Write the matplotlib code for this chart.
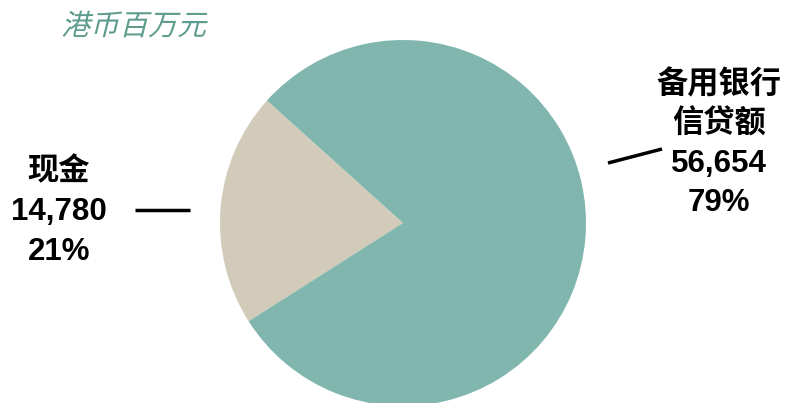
import matplotlib
matplotlib.use("Agg")
import matplotlib.pyplot as plt
from matplotlib.textpath import TextPath
from matplotlib.patches import PathPatch
from matplotlib.font_manager import FontProperties
from matplotlib.transforms import Affine2D

plt.rcParams['font.family'] = ['Liberation Sans', 'Noto Sans CJK SC', 'DejaVu Sans']

# 港币百万元
categories = ["现金", "备用银行\n信贷额"]
values = [14780, 56654]
colors = ["#D2CBB9", "#80B6AE"]
unit_title = "港币百万元"

W, H = 788, 403
fig = plt.figure(figsize=(W / 100, H / 100), dpi=100)
ax = fig.add_axes([0, 0, 1, 1])

# pie in pixel-like data units (y measured from the bottom)
ax.pie(values, colors=colors, startangle=138, counterclock=True,
       center=(403, H - 223), radius=183,
       wedgeprops=dict(linewidth=0))
ax.set_xlim(0, W)
ax.set_ylim(0, H)
ax.set_aspect('equal')
ax.axis('off')

total = sum(values)
labels = []
for cat, v in zip(categories, values):
    labels.append("%s\n%s\n%d%%" % (cat, format(v, ","), round(v / total * 100)))

# cash label on the left
ax.text(59, H - 212, labels[0], ha='center', va='center', fontsize=22.5,
        fontweight='bold', linespacing=1.42, color='black')
ax.plot([135, 190], [H - 210, H - 210], color='black', lw=2.5,
        solid_capstyle='butt')

# credit facility label on the right
ax.text(719, H - 144, labels[1], ha='center', va='center', fontsize=22.5,
        fontweight='bold', linespacing=1.38, color='black')
ax.plot([608, 662], [H - 163, H - 149], color='black', lw=2.5,
        solid_capstyle='butt')

# italic unit title (CJK font has no italic, so skew the glyph paths)
tp = TextPath((0, 0), unit_title, size=29,
              prop=FontProperties(family='Noto Sans CJK SC'))
tr = Affine2D().skew_deg(14, 0).translate(61, H - 35)
ax.add_patch(PathPatch(tr.transform_path(tp), facecolor='#5E9C8E',
                       edgecolor='none'))

fig.savefig("out.png", dpi=100)
